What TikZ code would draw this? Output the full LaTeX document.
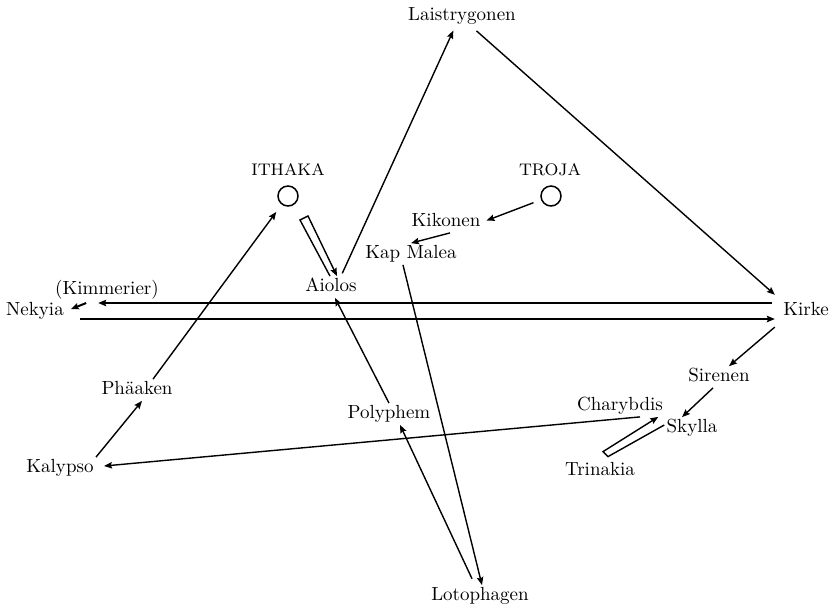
\documentclass[tikz,border=0pt]{standalone}
\usepackage{fontspec}
\usepackage{tikz}
\usetikzlibrary{arrows.meta,positioning}

\begin{document}
\begin{tikzpicture}[
  x=0.5pt,y=-0.5pt,
  n/.style={inner sep=1pt,text height=6.5pt,text depth=2pt,font=\fontsize{9.5}{11}\selectfont},
  capslbl/.style={inner sep=1pt,font=\fontsize{8.4}{10}\selectfont},
  city/.style={circle,draw=black,line width=0.75pt,minimum size=10pt,inner sep=0pt},
  a/.style={-{Stealth[length=4pt,width=3.2pt,inset=0.6pt]},line width=0.7pt},
  wide/.style={a,line width=1pt},
  band/.style={a,line join=miter}
]
\useasboundingbox (0,0) rectangle (833,607);
% start and goal
\node[city] (ithaka) at (288,196) {};
\node[city] (troja) at (551,196) {};
\node[capslbl,above=3.5pt of ithaka] (ithakalbl) {ITHAKA};
\node[capslbl,above=3.5pt of troja,xshift=-0.5pt] (trojalbl) {TROJA};
% stations
\node[n] (laist) at (462,16) {Laistrygonen};
\node[n] (kikonen) at (446,222) {Kikonen};
\node[n] (kapmalea) at (411,254) {Kap Malea};
\node[n] (aiolos) at (331,287) {Aiolos};
\node[n] (kimmerier) at (107,290) {(Kimmerier)};
\node[n] (nekyia) at (35,311) {Nekyia};
\node[n] (kirke) at (806,311) {Kirke};
\node[n] (sirenen) at (719,377) {Sirenen};
\node[n] (phaeaken) at (137,390) {Phäaken};
\node[n] (polyphem) at (389,414) {Polyphem};
\node[n] (charybdis) at (620,406) {Charybdis};
\node[n] (skylla) at (692,428) {Skylla};
\node[n] (kalypso) at (60,468) {Kalypso};
\node[n] (trinakia) at (600,471) {Trinakia};
\node[n] (lotophagen) at (480,596) {Lotophagen};
% route
\draw[a,shorten <=4pt,shorten >=2pt] (troja) -- (kikonen.east);
\draw[a] ([xshift=2pt]kikonen.south) -- (kapmalea.north);
\draw[a] ([xshift=-4pt]kapmalea.south) -- ([xshift=1pt]lotophagen.north);
\draw[a,shorten <=3.5pt] ([xshift=-2.5pt]lotophagen.north) -- ([xshift=5.5pt]polyphem.south);
\draw[a] (polyphem.north) -- ([xshift=2pt]aiolos.south);
\draw[band] ([xshift=-0.5pt]aiolos.north) -- ([shift={(6pt,-12pt)}]ithaka.center)
  -- ([shift={(10pt,-10pt)}]ithaka.center) -- ([xshift=3pt]aiolos.north);
\draw[a,shorten <=1.5pt,shorten >=2pt] ([xshift=5pt]aiolos.north) -- ([xshift=-3.5pt]laist.south);
\draw[a,shorten <=3pt,shorten >=4pt] ([xshift=5pt]laist.south) -- (kirke.north west);
\draw[wide,shorten <=4.5pt,shorten >=16pt] ([yshift=4pt]kirke.west) -- ([yshift=4pt]nekyia.east);
\draw[wide,shorten >=2.5pt] ([shift={(10pt,4pt)}]nekyia.east) -- (nekyia.east);
\draw[wide,shorten <=7pt,shorten >=3pt] ([yshift=-4pt]nekyia.east) -- ([yshift=-4pt]kirke.west);
\draw[a,shorten <=4pt] (kirke.south west) -- ([xshift=5pt]sirenen.north);
\draw[a] ([xshift=-3pt]sirenen.south) -- ([xshift=-5pt]skylla.north);
\draw[band] ([yshift=1.5pt]skylla.west) -- ([shift={(4pt,1.75pt)}]trinakia.north)
  -- ([shift={(1.5pt,4.25pt)}]trinakia.north) -- ([xshift=-3.5pt]charybdis.south east);
\draw[a] ([xshift=10pt]charybdis.south) -- ([shift={(4pt,1pt)}]kalypso.east);
\draw[a] (kalypso.north east) -- ([xshift=2.5pt]phaeaken.south);
\draw[a,shorten >=4.5pt] ([xshift=8pt]phaeaken.north) -- (ithaka);
\end{tikzpicture}
\end{document}
